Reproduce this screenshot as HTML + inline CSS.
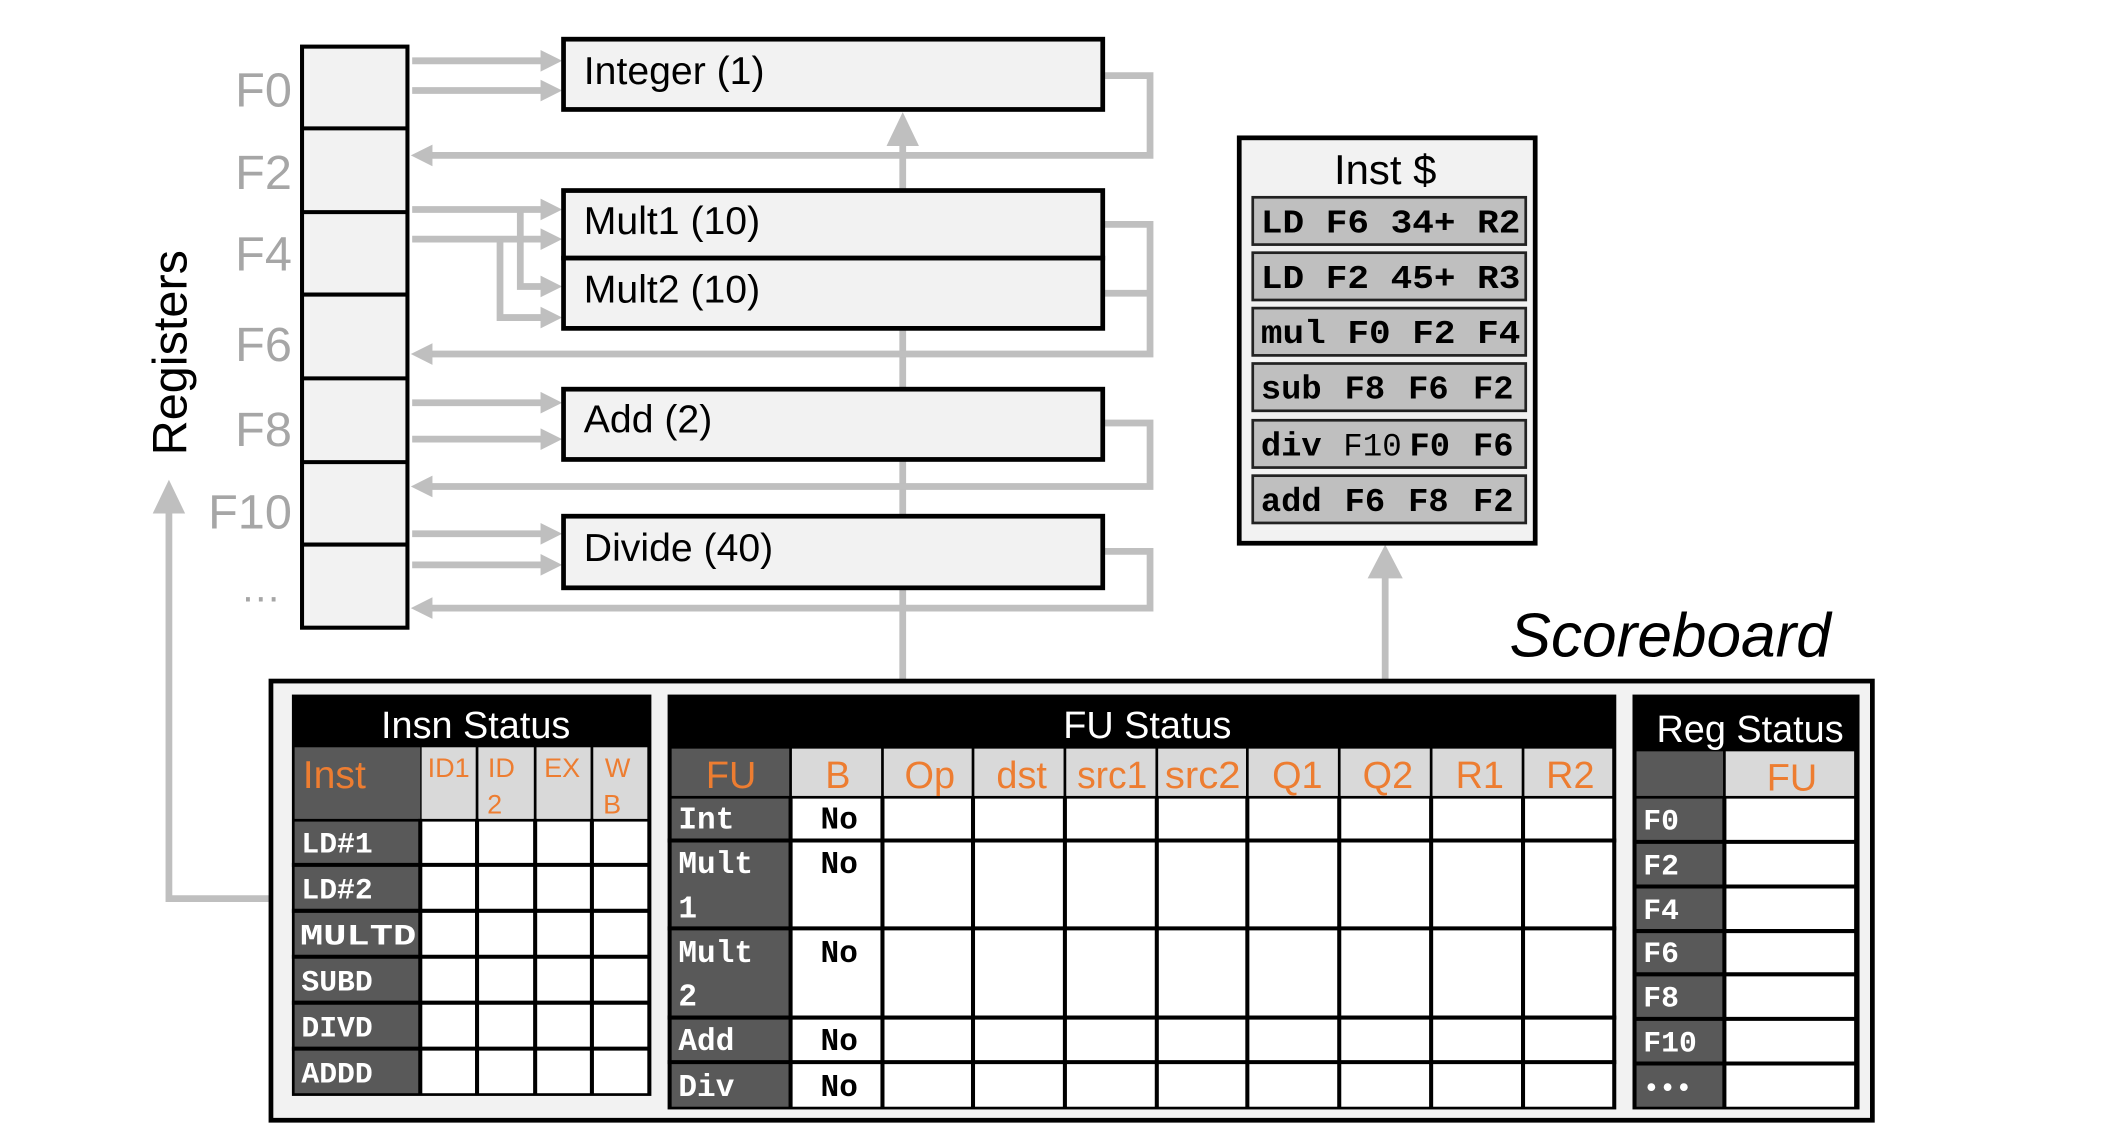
<!DOCTYPE html>
<html><head><meta charset="utf-8"><style>
html,body{margin:0;padding:0;background:#fff;}
svg{display:block;}
.g{fill:#bfbfbf;}
.ln{stroke:#bfbfbf;stroke-width:5;fill:none;}
.sans{font-family:"Liberation Sans",sans-serif;}
.mono{font-family:"Liberation Mono",monospace;font-weight:bold;}
</style></head><body>
<svg width="2119" height="1127" viewBox="0 0 1568 834" preserveAspectRatio="none" xmlns="http://www.w3.org/2000/svg">
<rect width="1568" height="834" fill="#fff"/>

<line class="ln" x1="668" y1="503" x2="668" y2="105"/>
<polygon class="g" points="656,108 680,108 668,83"/>
<line class="ln" x1="1025" y1="503" x2="1025" y2="425"/>
<polygon class="g" points="1012,428 1038,428 1025,403"/>
<polyline class="ln" points="200,665 125,665 125,378"/>
<polygon class="g" points="113,380 137,380 125,355"/>

<g>
<line class="ln" x1="305" y1="45" x2="402" y2="45"/><polygon class="g" points="400,37 400,53 416,45"/>
<line class="ln" x1="305" y1="67" x2="402" y2="67"/><polygon class="g" points="400,59 400,75 416,67"/>
<line class="ln" x1="305" y1="155" x2="402" y2="155"/><polygon class="g" points="400,147 400,163 416,155"/>
<line class="ln" x1="305" y1="177" x2="402" y2="177"/><polygon class="g" points="400,169 400,185 416,177"/>
<polyline class="ln" points="385,155 385,212 402,212"/><polygon class="g" points="400,204 400,220 416,212"/>
<polyline class="ln" points="370,177 370,235 402,235"/><polygon class="g" points="400,227 400,243 416,235"/>
<line class="ln" x1="305" y1="298" x2="402" y2="298"/><polygon class="g" points="400,290 400,306 416,298"/>
<line class="ln" x1="305" y1="325" x2="402" y2="325"/><polygon class="g" points="400,317 400,333 416,325"/>
<line class="ln" x1="305" y1="395" x2="402" y2="395"/><polygon class="g" points="400,387 400,403 416,395"/>
<line class="ln" x1="305" y1="418" x2="402" y2="418"/><polygon class="g" points="400,410 400,426 416,418"/>
</g>
<g>
<polyline class="ln" points="817,56 851,56 851,115 318,115"/><polygon class="g" points="320,107 320,123 304,115"/>
<polyline class="ln" points="817,166 851,166 851,262 318,262"/>
<line class="ln" x1="817" y1="217" x2="851" y2="217"/><polygon class="g" points="320,254 320,270 304,262"/>
<polyline class="ln" points="817,313 851,313 851,360 318,360"/><polygon class="g" points="320,352 320,368 304,360"/>
<polyline class="ln" points="817,408 851,408 851,450 318,450"/><polygon class="g" points="320,442 320,458 304,450"/>
</g>

<rect x="223.5" y="34.5" width="78" height="430" fill="#f2f2f2" stroke="#000" stroke-width="3"/>
<g stroke="#000" stroke-width="3">
<line x1="223" y1="95" x2="302" y2="95"/><line x1="223" y1="157" x2="302" y2="157"/>
<line x1="223" y1="218" x2="302" y2="218"/><line x1="223" y1="280" x2="302" y2="280"/>
<line x1="223" y1="342" x2="302" y2="342"/><line x1="223" y1="403" x2="302" y2="403"/>
</g>
<g class="sans" fill="#a6a6a6" font-size="36" text-anchor="end">
<text x="216" y="79">F0</text><text x="216" y="140">F2</text><text x="216" y="200">F4</text>
<text x="216" y="267">F6</text><text x="216" y="330">F8</text><text x="216" y="391">F10</text>
<text x="208" y="445" font-size="30">…</text>
</g>
<text class="sans" font-size="36" transform="translate(138,337) rotate(-90)">Registers</text>

<g fill="#f2f2f2" stroke="#000" stroke-width="3.5">
<rect x="417" y="29" width="399" height="52"/>
<rect x="417" y="141" width="399" height="50"/>
<rect x="417" y="191" width="399" height="52"/>
<rect x="417" y="288" width="399" height="52"/>
<rect x="417" y="382" width="399" height="53"/>
</g>
<g class="sans" font-size="29" fill="#000">
<text x="432" y="62">Integer (1)</text>
<text x="432" y="173">Mult1 (10)</text>
<text x="432" y="224">Mult2 (10)</text>
<text x="432" y="320">Add (2)</text>
<text x="432" y="415">Divide (40)</text>
</g>

<rect x="917" y="102" width="219" height="300" fill="#f2f2f2" stroke="#000" stroke-width="3.5"/>
<text class="sans" x="1025" y="136" font-size="31" text-anchor="middle">Inst $</text>
<g fill="#bfbfbf" stroke="#222" stroke-width="2">
<rect x="927" y="146" width="202" height="35"/><rect x="927" y="187" width="202" height="35"/>
<rect x="927" y="228" width="202" height="35"/><rect x="927" y="269" width="202" height="35"/>
<rect x="927" y="311" width="202" height="35"/><rect x="927" y="352" width="202" height="35"/>
</g>
<g class="mono" font-size="25" fill="#000">
<text x="933" y="172" textLength="192" lengthAdjust="spacingAndGlyphs">LD F6 34+ R2</text>
<text x="933" y="213" textLength="192" lengthAdjust="spacingAndGlyphs">LD F2 45+ R3</text>
<text x="933" y="254" textLength="192" lengthAdjust="spacingAndGlyphs">mul F0 F2 F4</text>
<text x="933" y="295">sub</text><text x="995" y="295">F8</text><text x="1042" y="295">F6</text><text x="1090" y="295">F2</text>
<text x="933" y="337">div</text><text x="994" y="337" font-weight="normal" font-size="24">F10</text><text x="1043" y="337">F0</text><text x="1090" y="337">F6</text>
<text x="933" y="378">add</text><text x="995" y="378">F6</text><text x="1042" y="378">F8</text><text x="1090" y="378">F2</text>
</g>

<text class="sans" x="1117" y="486" font-size="46" font-style="italic">Scoreboard</text>

<rect x="200.5" y="504" width="1185" height="325" fill="#f2f2f2" stroke="#000" stroke-width="3.5"/>

<rect x="216" y="514" width="266" height="297" fill="#000"/>
<text class="sans" x="352" y="546" font-size="28" fill="#fff" text-anchor="middle">Insn Status</text>
<rect x="218" y="553" width="93" height="53" fill="#595959"/>
<g fill="#d9d9d9">
<rect x="312" y="553" width="40" height="53"/><rect x="354" y="553" width="41" height="53"/>
<rect x="397" y="553" width="40" height="53"/><rect x="439" y="553" width="40" height="53"/>
</g>
<g class="sans" fill="#ed7d31">
<text x="224" y="583" font-size="29">Inst</text>
<g font-size="20" text-anchor="middle">
<text x="332" y="575">ID1</text><text x="371" y="575">ID</text><text x="366" y="602">2</text>
<text x="416" y="575">EX</text><text x="457" y="575">W</text><text x="453" y="602">B</text>
</g></g>
<rect x="218" y="608" width="93" height="201" fill="#595959"/>
<rect x="312" y="608" width="167" height="201" fill="#fff"/>
<g stroke="#000" stroke-width="3">
<line x1="216" y1="640" x2="481" y2="640"/><line x1="216" y1="674" x2="481" y2="674"/>
<line x1="216" y1="708" x2="481" y2="708"/><line x1="216" y1="742" x2="481" y2="742"/>
<line x1="216" y1="776" x2="481" y2="776"/>
<line x1="353" y1="606" x2="353" y2="810"/><line x1="396" y1="606" x2="396" y2="810"/>
<line x1="438" y1="606" x2="438" y2="810"/><line x1="311" y1="606" x2="311" y2="810"/>
</g>
<g class="mono" fill="#fff" font-size="22">
<text x="223" y="631">LD#1</text><text x="223" y="665">LD#2</text>
<text x="222" y="699" textLength="86" lengthAdjust="spacingAndGlyphs">MULTD</text>
<text x="223" y="733">SUBD</text><text x="223" y="767">DIVD</text><text x="223" y="801">ADDD</text>
</g>

<rect x="494" y="514" width="702" height="307" fill="#000"/>
<text class="sans" x="849" y="546" font-size="28" fill="#fff" text-anchor="middle">FU Status</text>
<rect x="497" y="554" width="87" height="35" fill="#595959"/>
<g fill="#d9d9d9">
<rect x="586" y="554" width="66" height="35"/><rect x="654" y="554" width="65" height="35"/>
<rect x="721" y="554" width="66" height="35"/><rect x="789" y="554" width="66" height="35"/>
<rect x="857" y="554" width="65" height="35"/><rect x="924" y="554" width="66" height="35"/>
<rect x="992" y="554" width="66" height="35"/><rect x="1060" y="554" width="66" height="35"/>
<rect x="1128" y="554" width="65" height="35"/>
</g>
<g class="sans" fill="#ed7d31" font-size="28" text-anchor="middle">
<text x="541" y="583">FU</text><text x="620" y="583">B</text><text x="688" y="583">Op</text>
<text x="756" y="583">dst</text><text x="823" y="583" textLength="52" lengthAdjust="spacingAndGlyphs">src1</text>
<text x="890" y="583" textLength="56" lengthAdjust="spacingAndGlyphs">src2</text><text x="960" y="583">Q1</text>
<text x="1027" y="583">Q2</text><text x="1095" y="583">R1</text><text x="1162" y="583">R2</text>
</g>
<rect x="497" y="591" width="87" height="228" fill="#595959"/>
<rect x="586" y="591" width="607" height="228" fill="#fff"/>
<g stroke="#000" stroke-width="3">
<line x1="494" y1="622" x2="1196" y2="622"/><line x1="494" y1="687" x2="1196" y2="687"/>
<line x1="494" y1="753" x2="1196" y2="753"/><line x1="494" y1="786" x2="1196" y2="786"/>
<line x1="585" y1="590" x2="585" y2="820"/><line x1="653" y1="590" x2="653" y2="820"/>
<line x1="720" y1="590" x2="720" y2="820"/><line x1="788" y1="590" x2="788" y2="820"/>
<line x1="856" y1="590" x2="856" y2="820"/><line x1="923" y1="590" x2="923" y2="820"/>
<line x1="991" y1="590" x2="991" y2="820"/><line x1="1059" y1="590" x2="1059" y2="820"/>
<line x1="1127" y1="590" x2="1127" y2="820"/>
</g>
<g class="mono" fill="#fff" font-size="23">
<text x="502" y="613">Int</text><text x="502" y="646">Mult</text><text x="502" y="679">1</text>
<text x="502" y="712">Mult</text><text x="502" y="744">2</text><text x="502" y="777">Add</text><text x="502" y="811">Div</text>
</g>
<g class="mono" fill="#000" font-size="23" text-anchor="middle">
<text x="621" y="613">No</text><text x="621" y="646">No</text><text x="621" y="712">No</text>
<text x="621" y="777">No</text><text x="621" y="811">No</text>
</g>

<rect x="1208" y="514" width="168" height="307" fill="#000"/>
<text class="sans" x="1295" y="549" font-size="28" fill="#fff" text-anchor="middle">Reg Status</text>
<rect x="1211" y="556" width="64" height="33" fill="#595959"/>
<rect x="1277" y="556" width="95" height="33" fill="#d9d9d9"/>
<text class="sans" x="1326" y="585" font-size="28" fill="#ed7d31" text-anchor="middle">FU</text>
<rect x="1211" y="591" width="64" height="228" fill="#595959"/>
<rect x="1277" y="591" width="95" height="228" fill="#fff"/>
<g stroke="#000" stroke-width="3">
<line x1="1208" y1="623" x2="1374" y2="623"/><line x1="1208" y1="656" x2="1374" y2="656"/>
<line x1="1208" y1="689" x2="1374" y2="689"/><line x1="1208" y1="721" x2="1374" y2="721"/>
<line x1="1208" y1="754" x2="1374" y2="754"/><line x1="1208" y1="787" x2="1374" y2="787"/>
<line x1="1276" y1="590" x2="1276" y2="820"/>
</g>
<g class="mono" fill="#fff" font-size="22">
<text x="1216" y="614">F0</text><text x="1216" y="647">F2</text><text x="1216" y="680">F4</text>
<text x="1216" y="712">F6</text><text x="1216" y="745">F8</text><text x="1216" y="778">F10</text>
<text x="1216" y="811" font-size="20">•••</text>
</g>
</svg>
</body></html>
